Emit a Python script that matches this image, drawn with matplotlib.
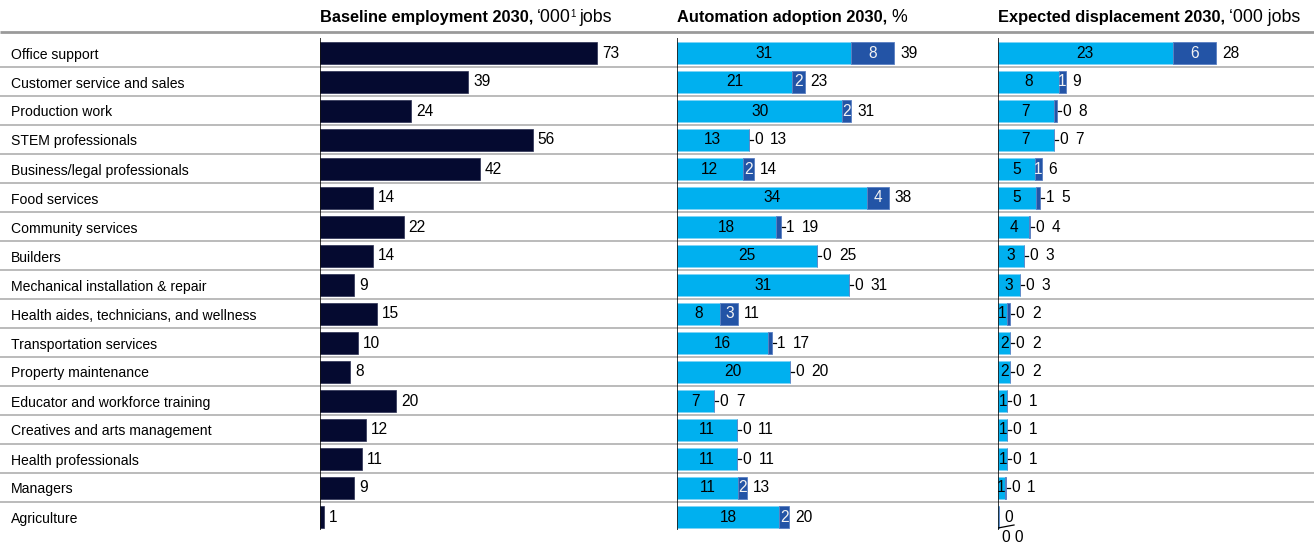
import matplotlib.pyplot as plt

plt.rcParams['font.family'] = ['Liberation Sans', 'DejaVu Sans']

W, H = 1314, 546

occupations = [
    'Office support', 'Customer service and sales', 'Production work',
    'STEM professionals', 'Business/legal professionals', 'Food services',
    'Community services', 'Builders', 'Mechanical installation & repair',
    'Health aides, technicians, and wellness', 'Transportation services',
    'Property maintenance', 'Educator and workforce training',
    'Creatives and arts management', 'Health professionals', 'Managers',
    'Agriculture',
]

# baseline employment, '000 jobs
baseline_jobs = [73, 39, 24, 56, 42, 14, 22, 14, 9, 15, 10, 8, 20, 12, 11, 9, 1]

# automation adoption, % (two segments per occupation)
adoption_base = [31.3, 20.7, 29.7, 12.9, 11.8, 34.2, 17.7, 25.2, 30.8, 7.8,
                 16.3, 20.2, 6.7, 10.7, 10.8, 11.0, 18.4]
adoption_extra = [7.7, 2.2, 1.6, 0.0, 2.0, 3.8, 0.9, 0.0, 0.0, 3.2,
                  0.7, 0.0, 0.0, 0.0, 0.0, 1.6, 1.7]

# expected displacement, '000 jobs
displaced_base = [22.6, 7.9, 7.2, 7.2, 4.8, 4.9, 4.0, 3.4, 2.8, 1.15,
                  1.6, 1.6, 1.2, 1.2, 1.2, 0.9, 0.1]
displaced_extra = [5.6, 0.9, 0.4, 0.0, 0.9, 0.55, 0.1, 0.0, 0.0, 0.45,
                   0.0, 0.0, 0.0, 0.0, 0.0, 0.1, 0.0]

NAVY = '#050a30'
CYAN = '#00b0ef'
BLUE = '#2354a6'
GRID = '#a8a8a8'
FS = 10.1      # row labels
NFS = 11.2     # value labels

ROW0, ROW_H = 53, 29          # pixel centre of first row, row pitch
BAR_H = 0.74

fig = plt.figure(figsize=(W / 100, H / 100), dpi=100)

# background layer in pixel units: rules and headers
bg = fig.add_axes([0, 0, 1, 1])
bg.set_xlim(0, W)
bg.set_ylim(H, 0)
bg.axis('off')

bg.plot([0, W], [32, 32], color='#9a9a9a', lw=2, solid_capstyle='butt')
for i in range(len(occupations) - 1):
    y = ROW0 + ROW_H * (i + 0.5) - 1
    bg.plot([0, W], [y, y], color=GRID, lw=1.1, solid_capstyle='butt')


def header(x, parts):
    r = fig.canvas.get_renderer()
    for txt, kw in parts:
        kw = dict(kw)
        rise = kw.pop('rise', 0)
        gap = kw.pop('gap', 0)
        x += gap
        t = bg.text(x, 22 - rise, txt, ha='left', va='baseline',
                    color='black', **kw)
        x = t.get_window_extent(r).x1


header(320, [('Baseline employment 2030,', dict(fontsize=11.8, fontweight='bold')),
             ('\u2018000', dict(fontsize=12.8, gap=4)),
             ('1', dict(fontsize=7, rise=5, gap=-0.5)),
             ('jobs', dict(fontsize=12.8, gap=3))])
header(677, [('Automation adoption 2030,', dict(fontsize=11.8, fontweight='bold')),
             ('%', dict(fontsize=12.8, gap=4))])
header(998, [('Expected displacement 2030,', dict(fontsize=11.8, fontweight='bold')),
             ('\u2018000 jobs', dict(fontsize=12.8, gap=4))])


def panel_axes(x0, px_per_unit, x1):
    ax = fig.add_axes([x0 / W, 0, (x1 - x0) / W, 1])
    ax.set_xlim(0, (x1 - x0) / px_per_unit)
    ax.set_ylim((H - ROW0) / ROW_H, -ROW0 / ROW_H)
    ax.patch.set_alpha(0)
    for s in ax.spines.values():
        s.set_visible(False)
    ax.set_xticks([])
    ax.set_yticks([])
    ax.plot([0, 0], [(38 - ROW0) / ROW_H, (530 - ROW0) / ROW_H],
            color='black', lw=1.1, solid_capstyle='butt', zorder=5)
    return ax


rows = list(range(len(occupations)))

# baseline employment
ax1 = panel_axes(320, 3.8, 660)
ax1.barh(rows, baseline_jobs, height=BAR_H, color=NAVY,
         edgecolor='#2a2f52', lw=0.5)
for i, v in enumerate(baseline_jobs):
    ax1.annotate(f'{v}', (v, i), xytext=(5, 0), textcoords='offset pixels',
                 ha='left', va='center', fontsize=NFS)

# occupation labels as y tick labels, flush with the left edge
ax1.set_yticks(rows, occupations)
ax1.tick_params(axis='y', length=0, pad=(320 - 11) * 0.72, labelsize=FS)
for lab in ax1.get_yticklabels():
    lab.set_ha('left')


def value(ax, txt, xy, dx, dy=0, **kw):
    ax.annotate(txt, xy, xytext=(dx, dy), textcoords='offset pixels',
                ha='left', va='center', fontsize=NFS, **kw)


def stacked(ax, base, extra, px_per_unit):
    ax.barh(rows, base, height=BAR_H, color=CYAN, edgecolor='#7fd4f6', lw=0.6)
    ax.barh(rows, extra, left=base, height=BAR_H, color=BLUE,
            edgecolor='#5a7fc2', lw=0.6)
    narrow = 6 / px_per_unit
    for i, (b, e) in enumerate(zip(base, extra)):
        total = b + e
        if b < narrow:
            # too thin to hold any label: first value beside, rest below
            value(ax, f'{b:.0f}', (total, i), 6)
            ax.plot([0, 16 / px_per_unit], [i + 11 / ROW_H, i + 8 / ROW_H],
                    color='black', lw=0.9)
            value(ax, f'{e:.0f} {total:.0f}', (0, i), 4, -21)
            continue
        ax.text(b / 2, i, f'{b:.0f}', ha='center', va='center', fontsize=NFS)
        if e >= narrow:
            ax.text(b + e / 2, i, f'{e:.0f}', ha='center', va='center',
                    fontsize=NFS, color='#f2f2f2')
            value(ax, f'{total:.0f}', (total, i), 6)
        else:
            ax.plot([total + 1 / px_per_unit, total + 4 / px_per_unit], [i, i],
                    color='black', lw=0.9)
            value(ax, f'{e:.0f}', (total, i), 5.5)
            value(ax, f'{total:.0f}', (total, i), 21.5)


ax2 = panel_axes(677, 5.57, 990)
stacked(ax2, adoption_base, adoption_extra, 5.57)

ax3 = panel_axes(998, 7.73, W)
stacked(ax3, displaced_base, displaced_extra, 7.73)

fig.savefig('out.png', dpi=100, facecolor='white')
